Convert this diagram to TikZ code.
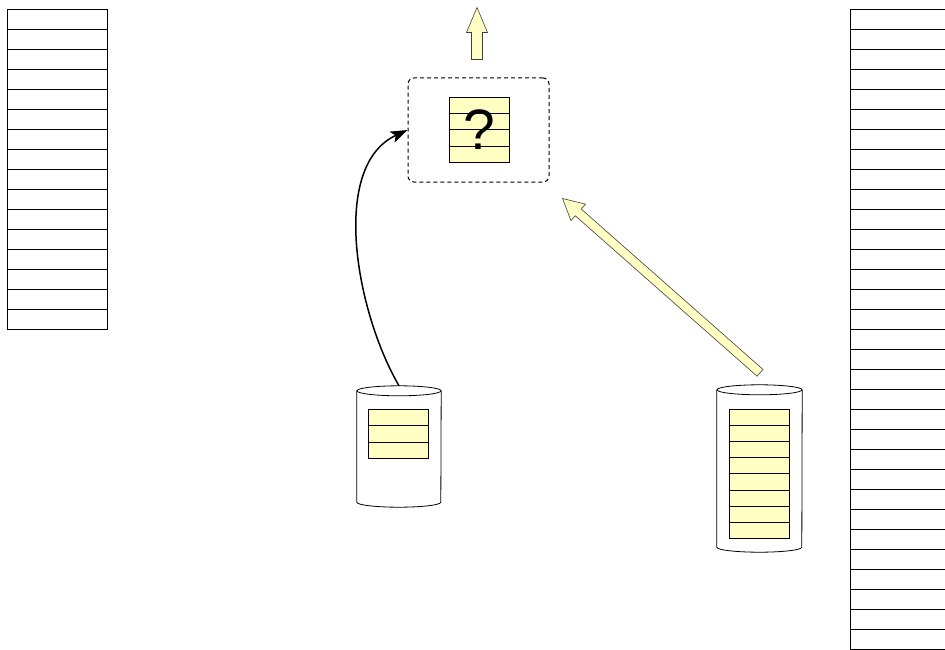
\documentclass[tikz,border=0pt]{standalone}
\usepackage{fontspec}
\setmainfont{Liberation Sans}
\usetikzlibrary{arrows.meta,positioning,calc}
\definecolor{memo}{RGB}{255,255,196}
% fat arrow: from, to, head length, head half width, shaft half width
\newcommand{\fatarrow}[5]{%
  \coordinate (hb) at ($(#2)!#3!(#1)$);
  \filldraw[fat] ($(#1)!#5!90:(#2)$) -- ($(hb)!#5!-90:(#1)$) -- ($(hb)!#4!-90:(#1)$) -- (#2)
    -- ($(hb)!#4!90:(#1)$) -- ($(hb)!#5!90:(#1)$) -- ($(#1)!#5!-90:(#2)$) -- cycle;}

\begin{document}
\begin{tikzpicture}[x=1pt,y=-1pt,>={Stealth[length=17pt,width=12pt,inset=4pt]}]
  \tikzstyle{slot}=[draw,minimum width=100pt,minimum height=20pt,inner sep=0pt,line width=0.8pt,anchor=north]
  \tikzstyle{row}=[draw,fill=memo,minimum width=60pt,inner sep=0pt,line width=0.8pt,anchor=north]
  \tikzstyle{can}=[draw,line width=0.8pt]
  \tikzstyle{fat}=[fill=memo,draw=black!75,line width=0.6pt]
  \clip (0,0) rectangle (945,650);
  \fill[white] (0,0) rectangle (945,650);
  % stacks
  \foreach \i in {0,...,15} \node[slot] (l\i) at (57,9+20*\i) {};
  \foreach \i in {0,...,33} \node[slot] (r\i) at (900,9+20*\i) {};
  % merge box
  \node[draw=black,dash pattern=on 4pt off 3pt,rounded corners=6pt,line width=1pt,minimum width=141pt,minimum height=104pt] (merge) at (478.5,130) {};
  \foreach \i in {0,...,3} \node[row,minimum height=16.25pt] (q\i) at (479,97+16.25*\i) {};
  \node[inner sep=0pt,font=\fontsize{57}{57}\selectfont] (qm) at (479.5,129.5) {?};
  % sources
  \node[minimum width=84pt,minimum height=111pt,inner sep=0pt] (src1) at (399,446.5) {};
  \draw[can] (src1.north west) -- (src1.south west) arc[start angle=180,end angle=360,x radius=42pt,y radius=5pt] -- (src1.north east);
  \draw[can] (src1.north) ellipse[x radius=42pt,y radius=5pt];
  \foreach \i in {0,...,2} \node[row,minimum height=16.3pt] (a\i) at (398,409+16.3*\i) {};
  \node[minimum width=85pt,minimum height=157pt,inner sep=0pt] (src2) at (759.5,468.5) {};
  \draw[can] (src2.north west) -- (src2.south west) arc[start angle=180,end angle=360,x radius=42.5pt,y radius=5pt] -- (src2.north east);
  \draw[can] (src2.north) ellipse[x radius=42.5pt,y radius=5pt];
  \foreach \i in {0,...,7} \node[row,minimum height=16.1pt] (b\i) at (759,409+16.1*\i) {};
  % connectors
  \draw[->,line width=1.5pt] ($(src1.north)+(0,-5)$) .. controls +(-43,-74) and +(-78,36) .. (merge.west);
  \coordinate (up0) at ($(merge.north)+(-1.5,-18)$);
  \coordinate (up1) at ($(merge.north)+(-1.5,-70)$);
  \fatarrow{up0}{up1}{25pt}{10.5pt}{5.5pt}
  \coordinate (d0) at ($(src2.north)+(0.5,-17)$);
  \coordinate (d1) at ($(merge.south east)+(13,16)$);
  \fatarrow{d0}{d1}{21pt}{11pt}{4.5pt}
\end{tikzpicture}
\end{document}
